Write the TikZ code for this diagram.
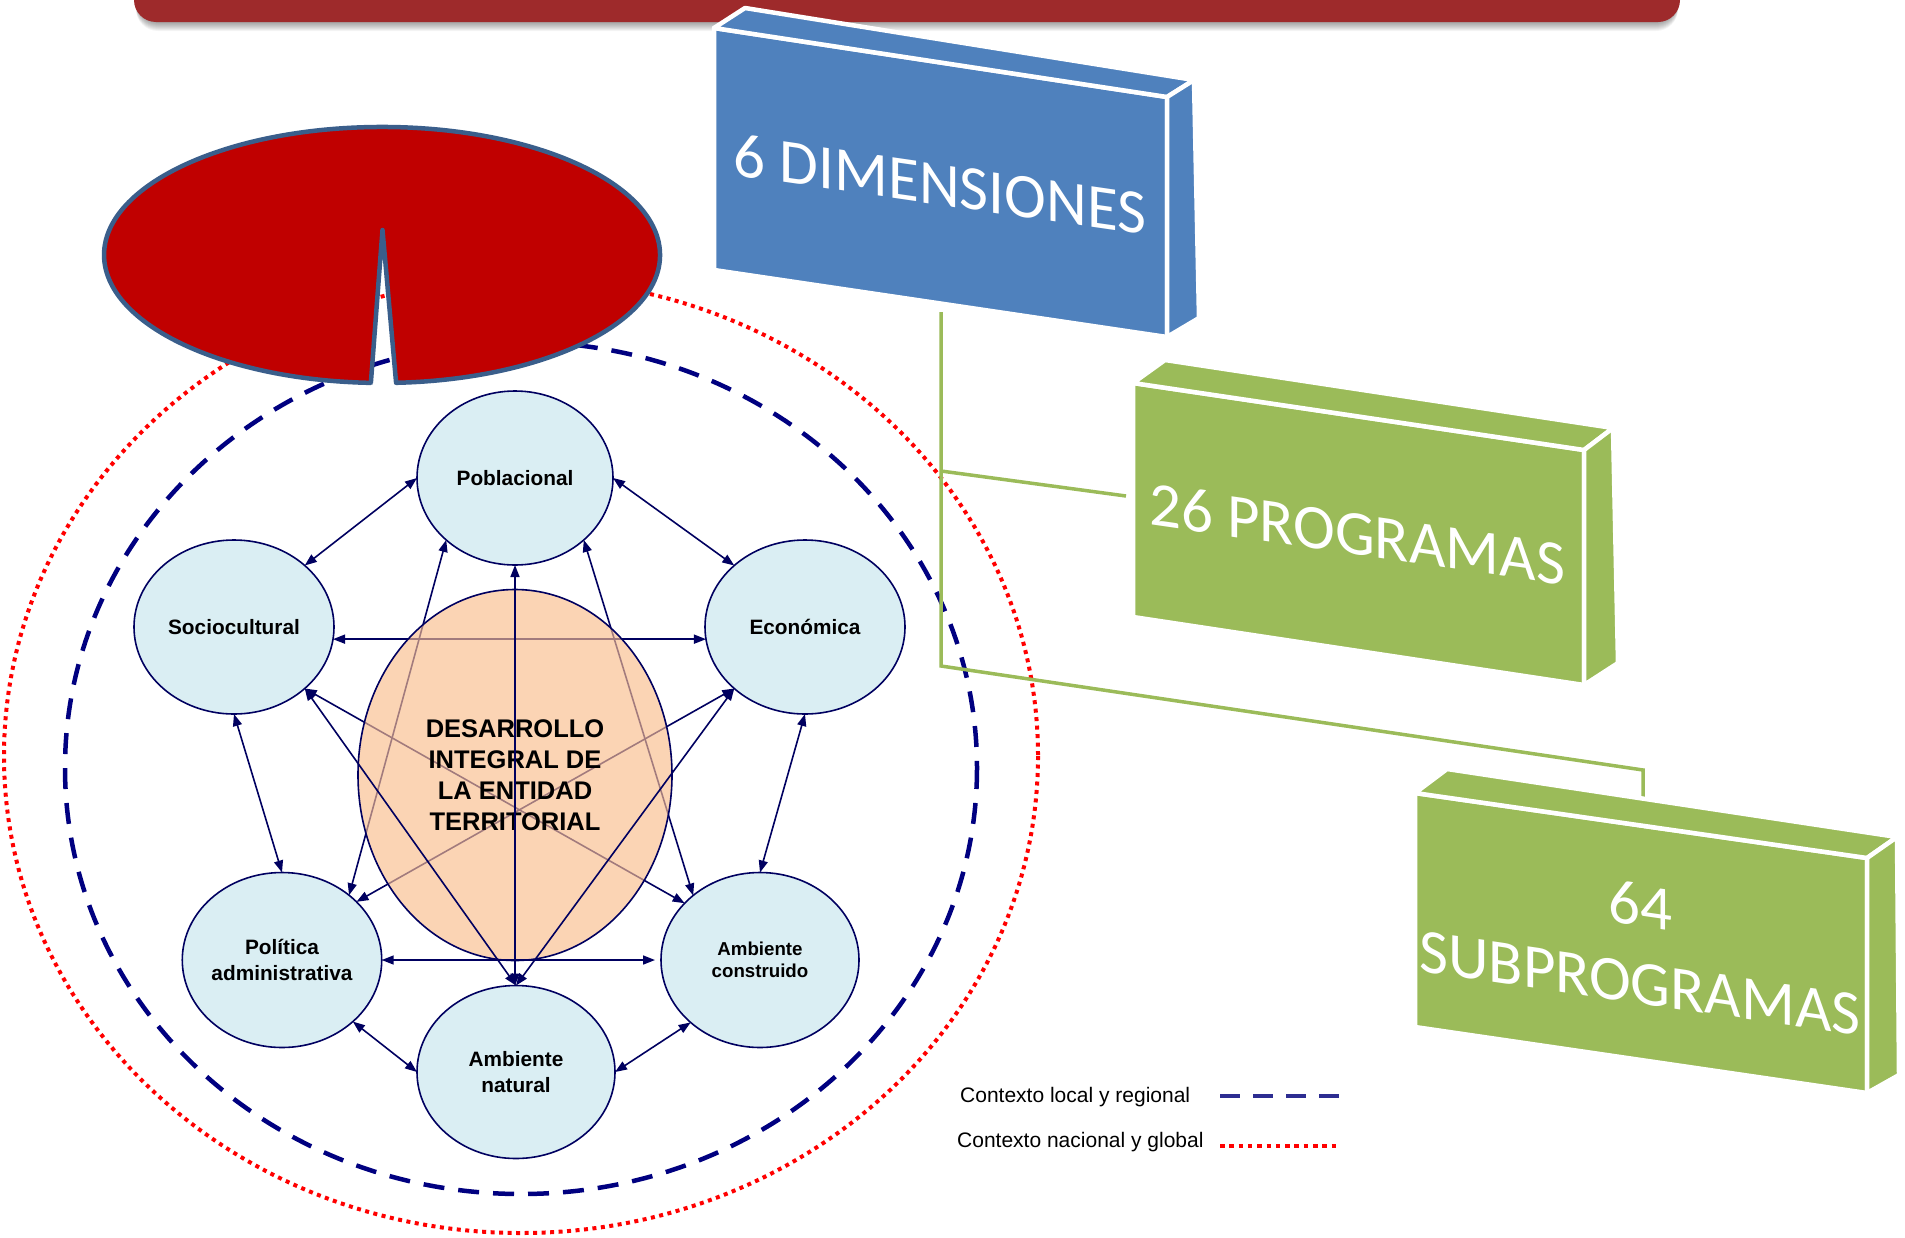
\documentclass[tikz,border=0pt]{standalone}
\usepackage{fontspec}
\setmainfont{Liberation Sans}
\newfontfamily\carl{Carlito}
\usetikzlibrary{arrows.meta,shapes.geometric}
\definecolor{navyc}{RGB}{0,0,96}
\definecolor{lblue}{RGB}{218,238,243}
\definecolor{peachc}{RGB}{250,190,141}
\definecolor{dashblue}{RGB}{0,0,128}
\definecolor{legblue}{RGB}{45,45,145}
\definecolor{dotred}{RGB}{255,0,0}
\definecolor{callred}{RGB}{192,0,0}
\definecolor{callborder}{RGB}{58,94,139}
\definecolor{bannerc}{RGB}{158,42,43}
\definecolor{boxblue}{RGB}{79,129,189}
\definecolor{boxgreen}{RGB}{155,187,89}
\begin{document}
\begin{tikzpicture}[x=1pt,y=-1pt,
  dimnode/.style={ellipse,draw=navyc,line width=1.6pt,fill=lblue,inner sep=0pt,outer sep=0pt,
    align=center,font=\fontsize{20.8}{25.5}\selectfont\bfseries,minimum width=198pt,minimum height=174pt},
  link/.style={navyc,line width=1.6pt,{Triangle[length=12pt,width=9pt]}-{Triangle[length=12pt,width=9pt]}},
  face/.style={fill=#1,draw=white,line width=4.5pt,line join=round},
  boxtext/.style={text=white,font=\carl\fontsize{63}{77}\selectfont,align=center,yslant=-0.145,inner sep=0pt},
  gline/.style={boxgreen,line width=3.5pt},
  legtext/.style={anchor=base west,font=\fontsize{21}{25}\selectfont,inner sep=0pt}
]
\useasboundingbox (0,0) rectangle (1905,1237);
\fill[white] (0,0) rectangle (1905,1237);

% banner with shadow
\foreach \d in {1,2,...,9}{
  \fill[black,opacity=0.045,rounded corners=22pt] (136,-40) rectangle (1678,{22+\d});
}
\fill[bannerc,rounded corners=22pt] (134,-40) rectangle (1680,22);

% context ellipses
\draw[dashblue,line width=4.5pt,dash pattern=on 21pt off 14pt] (521,768) ellipse [x radius=456, y radius=426];
\draw[dotred,line width=4pt,dash pattern=on 4pt off 4.5pt] (521,756) ellipse [x radius=517, y radius=477];

% red callout
\draw[callborder,fill=callred,line width=4.5pt,line join=round]
  (370.85,382.9) -- (382.5,230) -- (396.1,382.8)
  arc[start angle=87.1, end angle=-267.7, x radius=278, y radius=128] -- cycle;

% dimension nodes
\node[dimnode,minimum width=196pt] (pob) at (515,478) {Poblacional};
\node[dimnode,minimum width=200pt] (soc) at (234,627) {Sociocultural};
\node[dimnode,minimum width=200pt] (eco) at (805,627) {Económica};
\node[dimnode,minimum height=175pt] (pol) at (282,960) {Política\\administrativa};
\node[dimnode,minimum height=175pt,font=\fontsize{18.7}{22.5}\selectfont\bfseries] (ac) at (760,960) {Ambiente\\construido};
\node[dimnode,minimum height=173pt] (an) at (516,1072) {Ambiente\\natural};

% links behind the central ellipse
\draw[link] (soc.-7) -- (eco.187);
\draw[link] (pob.222) -- (pol.44);
\draw[link] (pob.318) -- (ac.136);
\draw[link] (soc.319) -- (ac.143);
\draw[link] (eco.221) -- (pol.38);

% central ellipse
\node[ellipse,draw=navyc,line width=1.6pt,fill=peachc,fill opacity=0.65,text opacity=1,
  minimum width=314pt,minimum height=371pt,inner sep=0pt,align=center,
  font=\fontsize{25.5}{31}\selectfont\bfseries] (core) at (515,775)
  {DESARROLLO\\INTEGRAL DE\\LA ENTIDAD\\TERRITORIAL};

% links in front
\draw[link] (pob.south) -- (pob.south |- an.north);
\draw[link] (soc.319) -- (an.north);
\draw[link] (eco.221) -- (an.north);
\draw[link] (pob.west) -- (soc.41);
\draw[link] (pob.east) -- (eco.139);
\draw[link] (soc.south) -- (pol.north);
\draw[link] (eco.south) -- (ac.north);
\draw[link,shorten >=6pt] (pol.east) -- (ac.west);
\draw[link] (pol.-41) -- (an.west);
\draw[link] (ac.222) -- (an.east);

% legend
\node[legtext] (leg1) at (960,1102) {Contexto local y regional};
\node[legtext] (leg2) at (957,1147) {Contexto nacional y global};
\coordinate (la1) at (1220,1096);
\coordinate (lb1) at (1340,1096);
\coordinate (la2) at (1220,1146);
\coordinate (lb2) at (1340,1146);
\draw[legblue,line width=4pt,dash pattern=on 20pt off 13pt] (la1) -- (lb1);
\draw[dotred,line width=4pt,dash pattern=on 4.5pt off 4.8pt] (la2) -- (lb2);

% green connectors
\coordinate (g0) at (941,312);
\coordinate (g1) at (941,471);
\coordinate (g2) at (941,666);
\coordinate (p26) at (1126,496);
\coordinate (s64a) at (1643,770);
\coordinate (s64) at (1643,798);
\draw[gline] (g0) -- (g2) -- (s64a) -- (s64);
\draw[gline] (g1) -- (p26);

% blue box
\draw[face=boxblue] (714,28) -- (1167,97) -- (1167,337) -- (714,270) -- cycle;
\draw[face=boxblue] (714,28) -- (745,8) -- (1194,80) -- (1167,97) -- cycle;
\draw[face=boxblue] (1167,97) -- (1194,80) -- (1199,318) -- (1167,337) -- cycle;
\node[boxtext] (dimt) at (940,184) {6 DIMENSIONES};

% green box 26
\draw[face=boxgreen] (1133,383) -- (1584,450) -- (1584,685) -- (1133,617) -- cycle;
\draw[face=boxgreen] (1133,383) -- (1165,360) -- (1613,428) -- (1584,450) -- cycle;
\draw[face=boxgreen] (1584,450) -- (1613,428) -- (1618,663) -- (1584,685) -- cycle;
\node[boxtext] (progt) at (1357,534) {26 PROGRAMAS};

% green box 64
\draw[face=boxgreen] (1415,793) -- (1867,858) -- (1867,1093) -- (1415,1027) -- cycle;
\draw[face=boxgreen] (1415,793) -- (1447,769) -- (1897,837) -- (1867,858) -- cycle;
\draw[face=boxgreen] (1867,858) -- (1897,837) -- (1899,1075) -- (1867,1093) -- cycle;
\node[boxtext] (subt) at (1640,944) {64\\SUBPROGRAMAS};
\end{tikzpicture}
\end{document}
